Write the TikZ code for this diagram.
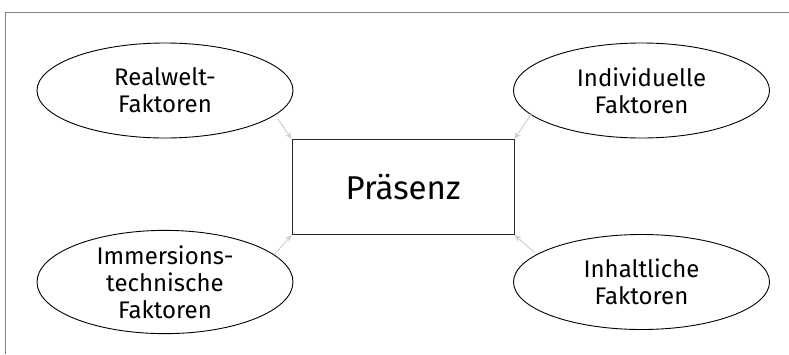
\documentclass[tikz,border=0pt]{standalone}
\usepackage{fontspec}
\setmainfont{Fira Sans}
\usetikzlibrary{shapes.geometric,arrows.meta}
\begin{document}
\begin{tikzpicture}[x=1pt,y=-1pt,
  factor/.style={draw=black,line width=0.9pt,ellipse,minimum width=256pt,minimum height=95pt,inner sep=0pt,
    align=center,font=\fontsize{24}{27}\selectfont},
  core/.style={draw=black!85,line width=0.9pt,rectangle,minimum width=222pt,minimum height=95pt,inner sep=0pt,
    font=\fontsize{33}{40}\selectfont},
  link/.style={draw=black!18,line width=1pt,-{Stealth[length=7pt,width=6pt]}},
  frame/.style={draw=black!50,line width=1pt}]
\useasboundingbox (0,0) rectangle (789,354);
\draw[frame] (5,354) -- (5,12) -- (789,12);
\node[core] (p) at (403,187) {Präsenz};
\node[factor] (rw) at (165,90.5) {Realwelt-\\Faktoren};
\node[factor] (ind) at (641.5,90.5) {Individuelle\\Faktoren};
\node[factor] (imm) at (165,282) {Immersions-\\technische\\Faktoren};
\node[factor] (inh) at (641.5,282) {Inhaltliche\\Faktoren};
\coordinate (s1) at (278,119);
\coordinate (s2) at (532,113);
\coordinate (s3) at (275,254);
\coordinate (s4) at (534,252);
\draw[link] (s1) -- (p.north west);
\draw[link] (s2) -- (p.north east);
\draw[link] (s3) -- (p.south west);
\draw[link] (s4) -- (p.south east);
\end{tikzpicture}
\end{document}
